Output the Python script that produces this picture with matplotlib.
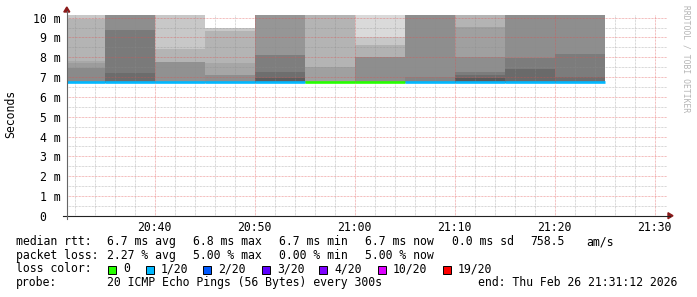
import matplotlib
matplotlib.use("Agg")
import matplotlib.pyplot as plt
from matplotlib.patches import Rectangle, Polygon
from matplotlib.lines import Line2D

# time axis: minutes after 20:30, window 20:31:12 .. 21:31:12
view_start = 1.2
view_end = 61.2
step_start = [0, 5, 10, 15, 20, 25, 30, 35, 40, 45, 50]
step_len = 5

# smoke layers per 5 min step: edges in ms and grey of each band (bottom -> top)
smoke_edges = [
    [6.7, 7.44, 7.70, 7.83, 9.92, 10.6],
    [6.7, 7.21, 9.38, 10.6],
    [6.7, 7.76, 8.44, 10.6],
    [6.7, 7.11, 7.70, 9.34, 9.46],
    [6.7, 6.94, 7.27, 8.12, 10.6],
    [6.7, 7.53, 10.6],
    [6.7, 8.03, 8.62, 9.04, 10.6],
    [6.7, 6.99, 10.6],
    [6.7, 6.94, 7.09, 7.27, 8.03, 9.53, 10.6],
    [6.7, 7.39, 7.95, 10.6],
    [6.7, 7.02, 8.17, 10.6],
]
smoke_grays = [
    ["#8a8a8a", "#9c9c9c", "#a8a8a8", "#b4b4b4", "#c8c8c8"],
    ["#6c6c6c", "#7a7a7a", "#8e8e8e"],
    ["#919191", "#b4b4b4", "#c8c8c8"],
    ["#8e8e8e", "#a6a6a6", "#b4b4b4", "#c8c8c8"],
    ["#5e5e5e", "#6e6e6e", "#7e7e7e", "#969696"],
    ["#a0a0a0", "#b4b4b4"],
    ["#8e8e8e", "#b2b2b2", "#c8c8c8", "#dadada"],
    ["#848484", "#8e8e8e"],
    ["#5a5a5a", "#6c6c6c", "#7c7c7c", "#8e8e8e", "#a0a0a0", "#b4b4b4"],
    ["#6a6a6a", "#7c7c7c", "#8e8e8e"],
    ["#6e6e6e", "#7c7c7c", "#8e8e8e"],
]
median_ms = [6.75, 6.75, 6.73, 6.75, 6.75, 6.75, 6.75, 6.75, 6.75, 6.73, 6.75]
loss_per_step = ["1/20", "1/20", "1/20", "1/20", "1/20", "0", "0",
                 "1/20", "1/20", "1/20", "1/20"]

loss_labels = ["0", "1/20", "2/20", "3/20", "4/20", "10/20", "19/20"]
loss_colors = ["#26ff00", "#00b8ff", "#0059ff", "#5e00ff", "#7e00ff", "#dd00ff", "#ff0000"]
loss_label_x = [108, 146, 203, 262, 319, 378, 443]

y_ticks = [0, 1, 2, 3, 4, 5, 6, 7, 8, 9, 10]
y_labels = ["0  ", "1 m", "2 m", "3 m", "4 m", "5 m", "6 m", "7 m", "8 m", "9 m", "10 m"]
x_ticks = [10, 20, 30, 40, 50, 60]
x_labels = ["20:40", "20:50", "21:00", "21:10", "21:20", "21:30"]

W, H = 697, 297
FONT = "DejaVu Sans Mono"
FS = 8.3
plt.rcParams["font.family"] = FONT


def fx(px):
    return px / W


def fy(py):
    return 1 - py / H


fig = plt.figure(figsize=(W / 100, H / 100), dpi=100)
fig.patch.set_facecolor("white")

ax_left, ax_right = 66.5, 666.5
y0_px, ymax = 215.7, 10.15
ax_top = y0_px - ymax * 19.8
ax = fig.add_axes([fx(ax_left), fy(y0_px), fx(ax_right - ax_left), (y0_px - ax_top) / H])
ax.set_xlim(view_start, view_end)
ax.set_ylim(0, ymax)

#smoke
for s, edges, grays in zip(step_start, smoke_edges, smoke_grays):
    for lo, hi, g in zip(edges[:-1], edges[1:], grays):
        ax.bar(s, hi - lo, bottom=lo, width=step_len, align="edge",
               color=g, linewidth=0, zorder=1)

#median line coloured by loss
cmap = dict(zip(loss_labels, loss_colors))
for s, m, l in zip(step_start, median_ms, loss_per_step):
    ax.hlines(m, s, s + step_len, colors=cmap[l], linewidth=1.9, zorder=3)

ax.set_xticks(x_ticks)
ax.set_xticklabels(x_labels)
ax.set_xticks(list(range(2, 62, 2)), minor=True)
ax.set_yticks(y_ticks)
ax.set_yticklabels(y_labels)
ax.set_yticks([v + 0.5 for v in y_ticks[:-1]], minor=True)
ax.tick_params(which="both", length=0)
ax.tick_params(axis="x", pad=3.6, labelsize=FS)
ax.tick_params(axis="y", pad=4.2, labelsize=FS)

dot = (0, (0.72, 0.72))
ax.grid(which="minor", color="#8c8c8c", alpha=0.45, linewidth=0.72, linestyle=dot)
ax.grid(which="major", color="#e05050", alpha=0.5, linewidth=0.72, linestyle=dot)
ax.set_axisbelow("line")
for sp in ax.spines.values():
    sp.set_visible(False)

#axis lines with arrows
fig.add_artist(Line2D([fx(63), fx(670)], [fy(y0_px), fy(y0_px)], color="#222222", linewidth=0.8))
fig.add_artist(Line2D([fx(66.8), fx(66.8)], [fy(219), fy(11)], color="#666666", linewidth=0.8))
fig.add_artist(Polygon([[fx(668), fy(212.7)], [fx(668), fy(218.7)], [fx(673), fy(215.7)]],
                       closed=True, color="#8b1a1a", transform=fig.transFigure))
fig.add_artist(Polygon([[fx(63.8), fy(12)], [fx(69.8), fy(12)], [fx(66.8), fy(7)]],
                       closed=True, color="#8b1a1a", transform=fig.transFigure))

fig.text(fx(11), fy(114), "Seconds", rotation=90, ha="center", va="center", fontsize=FS)
fig.text(fx(686), fy(5), "RRDTOOL / TOBI OETIKER", rotation=270, ha="center", va="top",
         fontsize=5.8, color="#b4b4b4")

#legend block
rows = [
    (241.7, [(16, "median rtt:"), (106.7, "6.7 ms avg"), (193, "6.8 ms max"), (279, "6.7 ms min"),
             (365, "6.7 ms now"), (451.7, "0.0 ms sd"), (530, "758.5"), (586, "am/s")]),
    (255.3, [(16, "packet loss:"), (106.7, "2.27 % avg"), (193, "5.00 % max"),
             (279, "0.00 % min"), (365, "5.00 % now")]),
    (269, [(16, "loss color:")]),
    (282.7, [(16, "probe:"), (106.7, "20 ICMP Echo Pings (56 Bytes) every 300s"),
             (478, "end: Thu Feb 26 21:31:12 2026")]),
]
for yy, segs in rows:
    for xx, t in segs:
        fig.text(fx(xx), fy(yy), t, ha="left", va="center", fontsize=FS)

for lx, lab, col in zip(loss_label_x, loss_labels, loss_colors):
    fig.add_artist(Rectangle((fx(lx), fy(273.5)), fx(8), 8 / H, facecolor=col,
                             edgecolor="black", linewidth=0.7, transform=fig.transFigure))
    fig.text(fx(lx + 15), fy(269), lab, ha="left", va="center", fontsize=FS)

plt.savefig("out.png", dpi=100)
plt.close()
